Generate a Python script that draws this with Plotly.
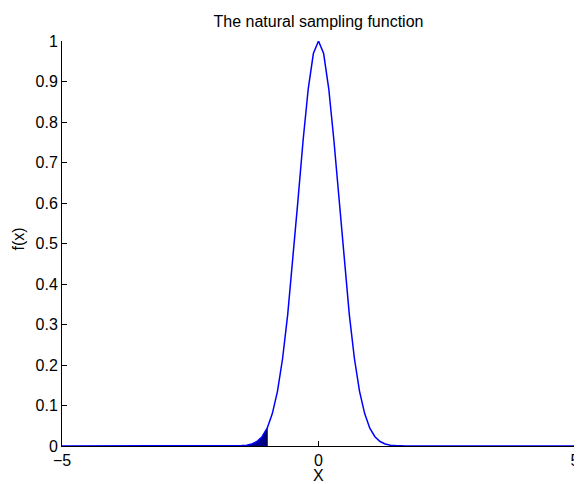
import plotly.graph_objects as go

x_vals = [round(-5 + 0.1 * i, 1) for i in range(101)]
half = {0.0: 1.0, 0.1: 0.969, 0.2: 0.882, 0.3: 0.755, 0.4: 0.607, 0.5: 0.458,
        0.6: 0.325, 0.7: 0.216, 0.8: 0.135, 0.9: 0.080, 1.0: 0.044, 1.1: 0.023,
        1.2: 0.011, 1.3: 0.005, 1.4: 0.002, 1.5: 0.001}
f_vals = [half.get(abs(x), 0.0) for x in x_vals]

shade_limit = -1.0
shade_x = [x for x in x_vals if x <= shade_limit]
shade_y = [f for x, f in zip(x_vals, f_vals) if x <= shade_limit]

x_ticks = [-5, 0, 5]
y_ticks = [0, 0.1, 0.2, 0.3, 0.4, 0.5, 0.6, 0.7, 0.8, 0.9, 1]
y_tick_text = ["0", "0.1", "0.2", "0.3", "0.4", "0.5", "0.6", "0.7", "0.8", "0.9", "1"]

fig = go.Figure()
fig.add_trace(go.Scatter(x=shade_x, y=shade_y, mode="lines", fill="tozeroy",
                         fillcolor="#00008B", line=dict(width=0, color="#00008B"),
                         hoverinfo="skip", showlegend=False))
fig.add_trace(go.Scatter(x=[shade_limit, shade_limit], y=[0, shade_y[-1]], mode="lines",
                         line=dict(color="black", width=1), showlegend=False))
fig.add_trace(go.Scatter(x=x_vals, y=f_vals, mode="lines",
                         line=dict(color="#0000FF", width=1.5), showlegend=False))

# page has an 8px body margin, so the figure is sized to fit the window
W, H = 574, 476
L, R, T, B = 54, 7, 33, 38
plot_h = H - T - B

fig.update_layout(
    width=W, height=H,
    margin=dict(l=L, r=R, t=T, b=B),
    paper_bgcolor="white", plot_bgcolor="white",
    font=dict(family="Liberation Sans, Arial, sans-serif", size=16, color="black"),
    title=dict(text="The natural sampling function", x=(L + W - R) / 2 / W, xanchor="center",
               y=1 - 13 / H, yanchor="middle", font=dict(size=16)),
    xaxis=dict(range=[-5, 5], tickvals=x_ticks, ticktext=[str(v).replace("-", "\u2212") for v in x_ticks],
               ticks="inside", ticklen=5, tickcolor="black", showline=True, linecolor="black",
               linewidth=1, showgrid=False, zeroline=False, layer="below traces",
               automargin=False, ticklabeloverflow="allow", tickfont=dict(size=16)),
    yaxis=dict(range=[0, 1], tickvals=y_ticks, ticktext=y_tick_text,
               ticks="inside", ticklen=5, tickcolor="black", showline=True, linecolor="black",
               linewidth=1, showgrid=False, zeroline=False, layer="below traces",
               automargin=False, tickfont=dict(size=16)),
    annotations=[
        dict(text="X", xref="paper", yref="paper", x=0.5, y=-30 / plot_h,
             xanchor="center", yanchor="middle", showarrow=False, font=dict(size=16)),
        dict(text="f(x)", xref="paper", yref="paper", x=-(L - 10) / (W - L - R), y=0.51,
             xanchor="center", yanchor="middle", textangle=-90, showarrow=False,
             font=dict(size=16)),
    ],
)

fig.write_html("out.html")
